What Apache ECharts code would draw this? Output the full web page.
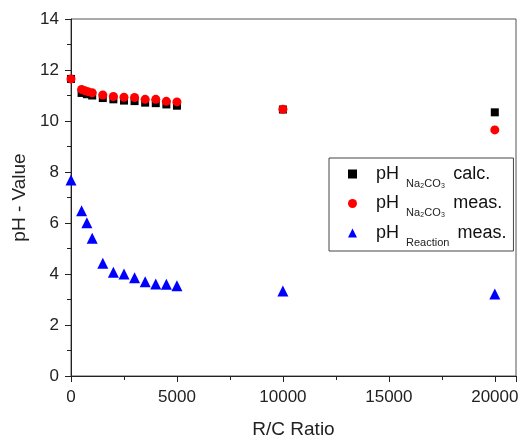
<!DOCTYPE html>
<html>
<head>
<meta charset="utf-8">
<script src="https://cdn.jsdelivr.net/npm/echarts@6/dist/echarts.min.js"></script>
<style>
  html, body { margin: 0; padding: 0; background: #fff; }
  #chart { width: 523px; height: 442px; }
</style>
</head>
<body>
<div id="chart"></div>
<script>
// R/C ratio and pH values
var calcX = [0, 500, 750, 1000, 1500, 2000, 2500, 3000, 3500, 4000, 4500, 5000, 10000, 20000];
var calcY = [11.65, 11.1, 11.05, 11.0, 10.9, 10.85, 10.8, 10.78, 10.72, 10.7, 10.65, 10.6, 10.45, 10.34];

var measX = [0, 500, 650, 800, 1000, 1500, 2000, 2500, 3000, 3500, 4000, 4500, 5000, 10000, 20000];
var measY = [11.65, 11.24, 11.19, 11.15, 11.11, 11.02, 10.96, 10.93, 10.92, 10.85, 10.85, 10.77, 10.75, 10.46, 9.65];

var reacX = [0, 500, 750, 1000, 1500, 2000, 2500, 3000, 3500, 4000, 4500, 5000, 10000, 20000];
var reacY = [7.69, 6.48, 6.01, 5.40, 4.42, 4.07, 4.0, 3.85, 3.70, 3.61, 3.60, 3.54, 3.33, 3.22];

var seriesNames = ['calc', 'meas', 'reac'];
var legendLabels = {
    calc: ['Na\u2082CO\u2083', 'calc.'],
    meas: ['Na\u2082CO\u2083', 'meas.'],
    reac: ['Reaction', 'meas.']
};

function pairs(xs, ys) {
    var out = [];
    for (var i = 0; i < xs.length; i++) {
        out.push([xs[i], ys[i]]);
    }
    return out;
}

var font = 'Liberation Sans, Arial, sans-serif';
var chart = echarts.init(document.getElementById('chart'));

chart.setOption({
    animation: false,
    textStyle: { fontFamily: font },
    grid: {
        left: 71, right: 7, top: 19, bottom: 66,
        outerBoundsMode: 'none',
        containLabel: false,
        show: true,
        borderColor: '#555',
        borderWidth: 1
    },
    legend: {
        orient: 'vertical',
        left: 329,
        top: 158,
        padding: [7, 7, 3, 19],
        itemGap: 5.5,
        itemWidth: 9,
        itemHeight: 9,
        borderColor: '#444',
        borderWidth: 1,
        backgroundColor: '#fff',
        data: seriesNames,
        formatter: function(name) {
            var l = legendLabels[name];
            return '{g|}{a|pH }{s|' + l[0] + '}{a| ' + l[1] + '}';
        },
        textStyle: {
            fontFamily: font,
            rich: {
                g: { width: 14 },
                a: { fontSize: 18, color: '#111', lineHeight: 22, fontFamily: font },
                s: { fontSize: 11, color: '#222', verticalAlign: 'bottom', lineHeight: 11, padding: [0, 3, -4, 2], fontFamily: font }
            }
        }
    },
    xAxis: {
        type: 'value',
        min: 0,
        max: 21000,
        interval: 5000,
        name: 'R/C Ratio',
        nameLocation: 'middle',
        nameGap: 44,
        nameTextStyle: { fontSize: 19, color: '#222', fontFamily: font },
        axisLine: { show: true, lineStyle: { color: '#222', width: 1 } },
        axisTick: { show: true, length: 6, lineStyle: { color: '#222' } },
        minorTick: { show: true, splitNumber: 2, length: 4, lineStyle: { color: '#222' } },
        axisLabel: {
            fontSize: 17, color: '#222', margin: 13, showMaxLabel: false,
            formatter: function(v) { return String(v); }
        },
        splitLine: { show: false }
    },
    yAxis: {
        type: 'value',
        min: 0,
        max: 14,
        interval: 2,
        name: 'pH - Value',
        nameLocation: 'middle',
        nameGap: 36,
        nameTextStyle: { fontSize: 19, color: '#222', fontFamily: font },
        axisLine: { show: true, lineStyle: { color: '#222', width: 1 } },
        axisTick: { show: true, length: 6, lineStyle: { color: '#222' } },
        minorTick: { show: true, splitNumber: 2, length: 4, lineStyle: { color: '#222' } },
        axisLabel: { fontSize: 17, color: '#222', margin: 12 },
        splitLine: { show: false }
    },
    series: [{
        name: 'calc',
        type: 'scatter',
        symbol: 'rect',
        symbolSize: 8,
        itemStyle: { color: '#000', opacity: 1 },
        data: pairs(calcX, calcY)
    }, {
        name: 'meas',
        type: 'scatter',
        symbol: 'circle',
        symbolSize: 9,
        itemStyle: { color: '#f00', opacity: 1 },
        data: pairs(measX, measY)
    }, {
        name: 'reac',
        type: 'scatter',
        symbol: 'triangle',
        symbolSize: 11,
        itemStyle: { color: '#0000ff', opacity: 1 },
        data: pairs(reacX, reacY)
    }]
});
</script>
</body>
</html>
